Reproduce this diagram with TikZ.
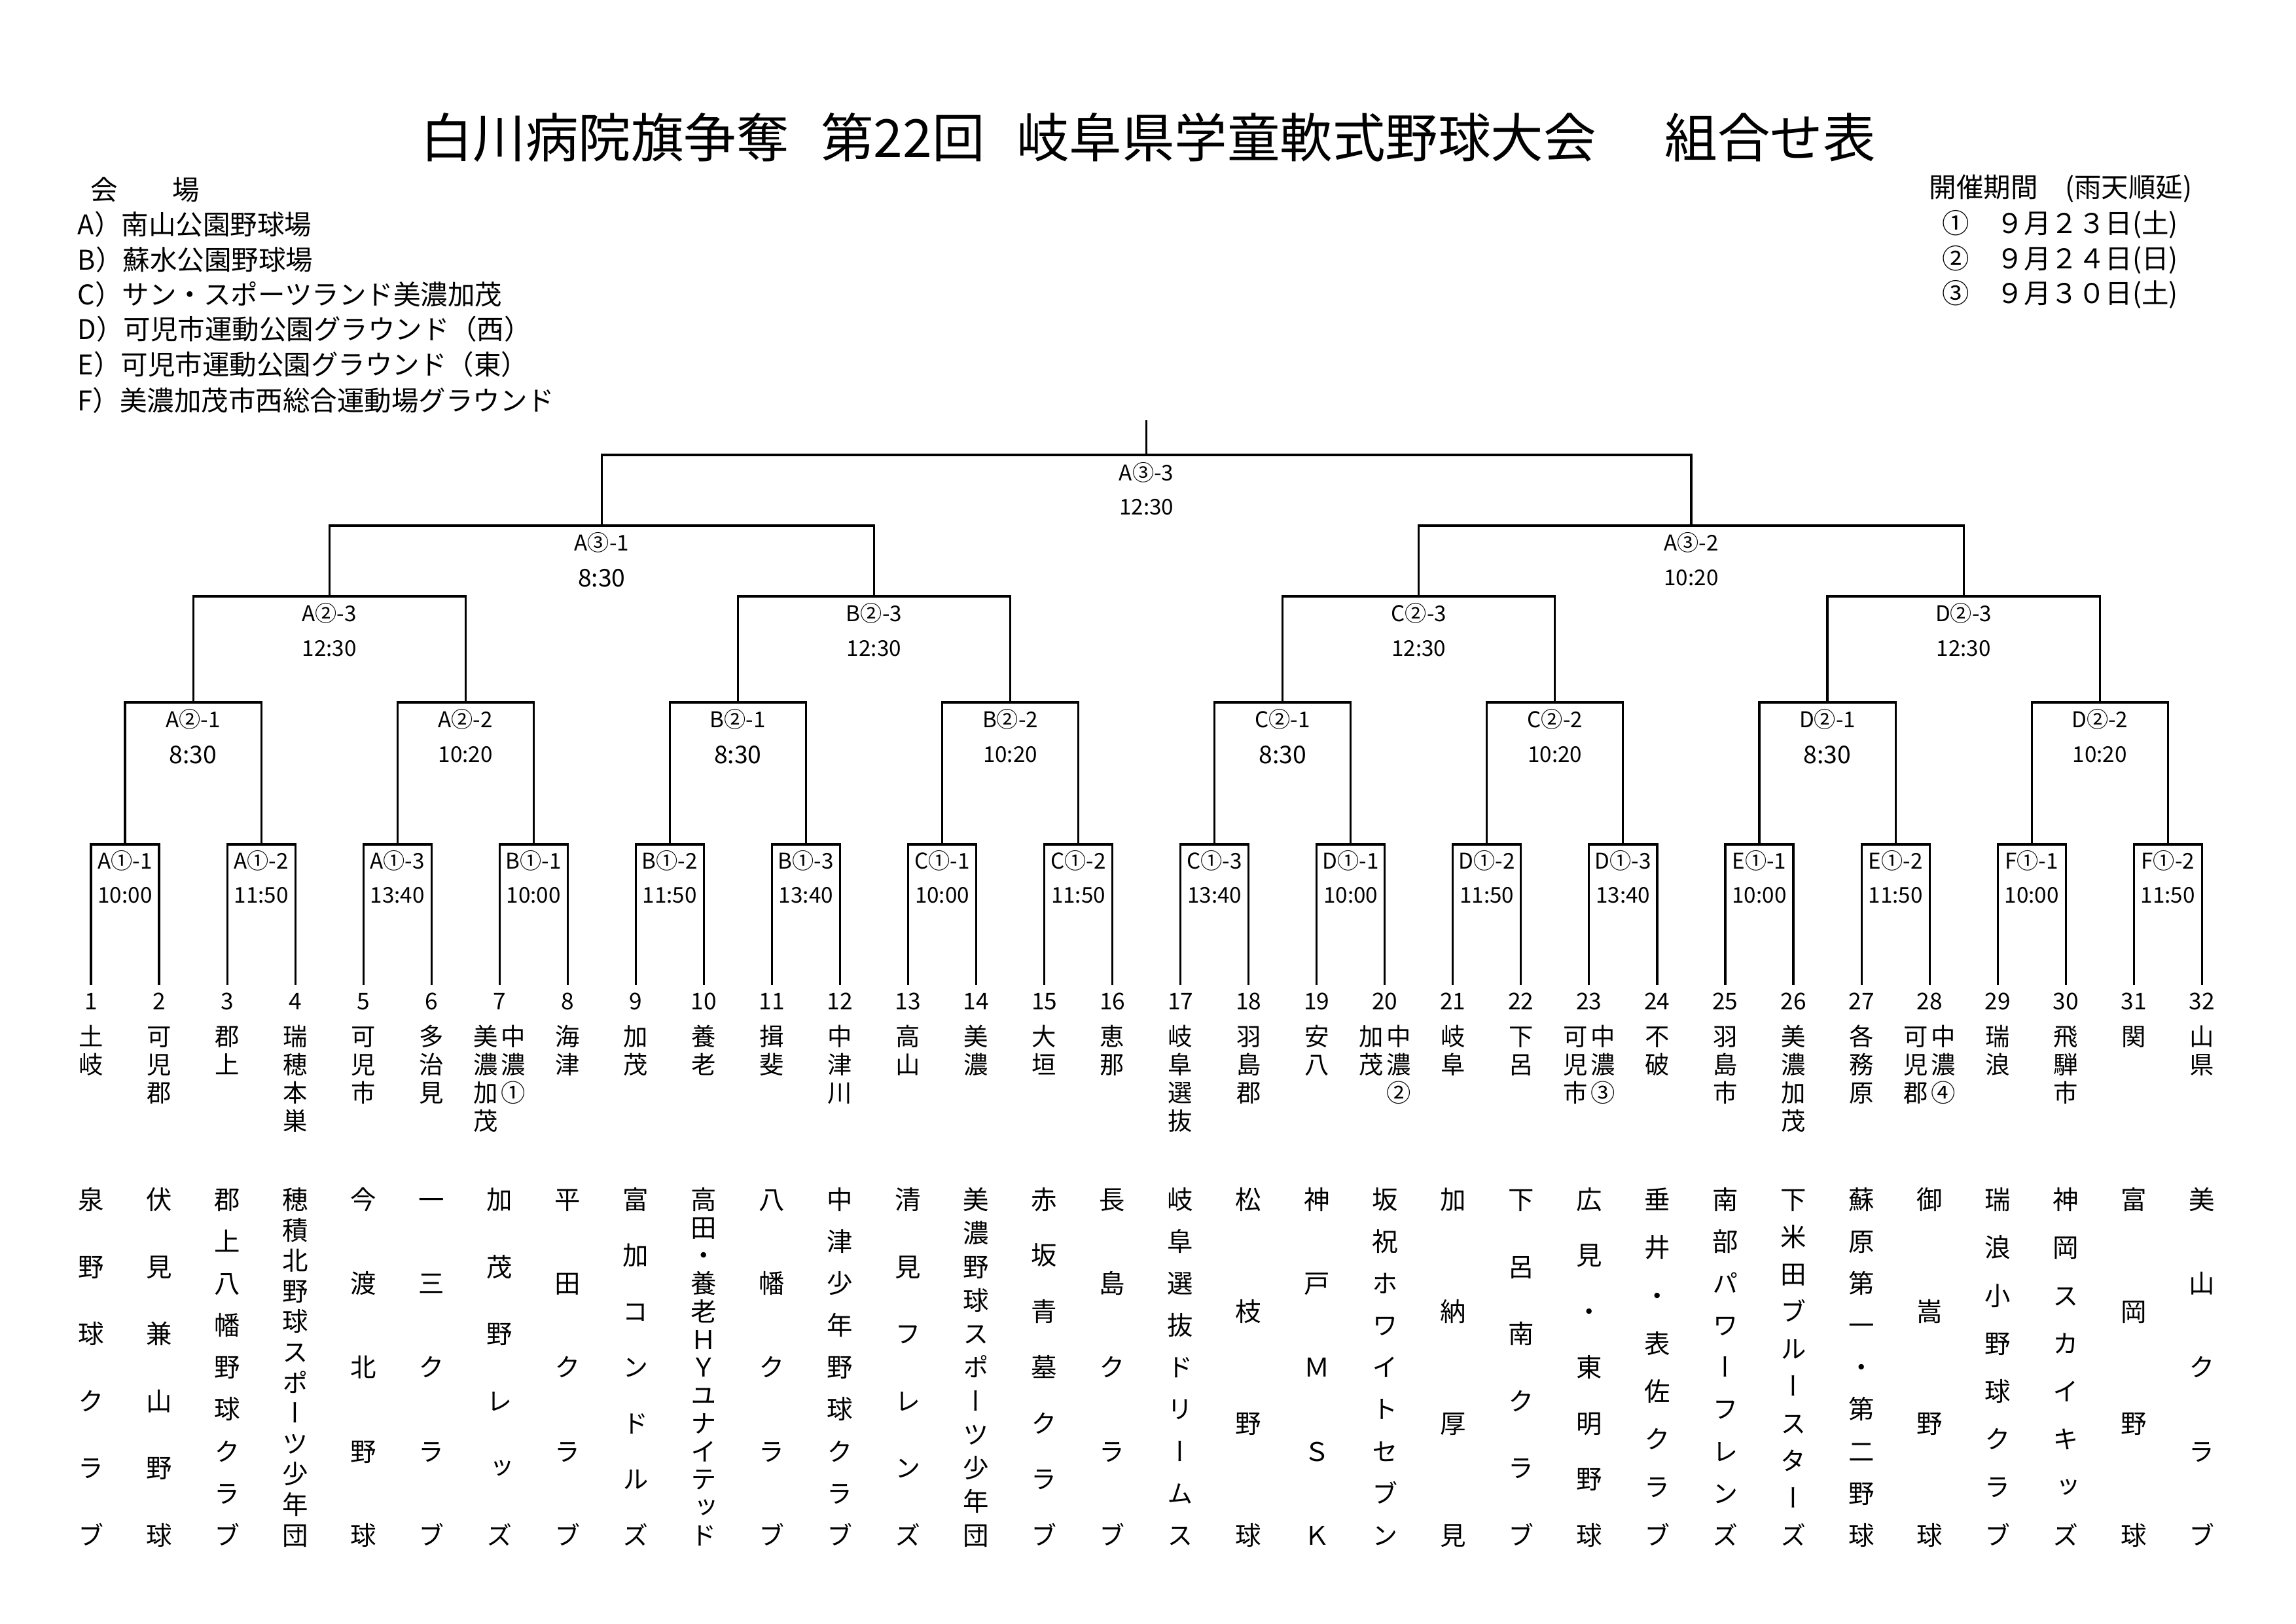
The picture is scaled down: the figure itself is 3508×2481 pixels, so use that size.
\documentclass[tikz,border=0pt]{standalone}
\usepackage{fontspec}
\setmainfont{Noto Sans CJK JP}
\newfontfamily\tatefont{Noto Sans CJK JP}[RawFeature=+vert]
\usetikzlibrary{calc}

% characters stacked one under the other
\def\tatechar#1{\hbox to 1em{\hss\vrule height .88em depth .12em width 0pt\relax#1\hss}}
\def\tatefirst#1{\tatechar{#1}\tatenext}
\def\tatenext#1{\ifx\relax#1\else\tategap\tatechar{#1}\expandafter\tatenext\fi}
\newcommand\tate[2][\vfill]{\def\tategap{#1}\expandafter\tatefirst#2\relax}

\tikzset{
    edgen/.style = {line width=0.75pt,draw=black},
    mcode/.style = {inner sep=0pt,font=\fontsize{8}{8}\selectfont},
    mtime/.style = {inner sep=0pt,font=\fontsize{8}{8}\selectfont},
    mtimeb/.style = {inner sep=0pt,font=\fontsize{9}{9}\selectfont},
    tnum/.style = {inner sep=0pt,font=\fontsize{8.5}{8.5}\selectfont},
    tname/.style = {inner sep=0pt,anchor=north,font=\tatefont\fontsize{9}{9}\selectfont},
    tclub/.style = {inner sep=0pt,anchor=north,font=\tatefont\fontsize{9.5}{9.5}\selectfont},
    venue/.style = {inner sep=0pt,anchor=west,font=\fontsize{10}{10}\selectfont}
}

\begin{document}
\begin{tikzpicture}[x=0.0846667mm,y=-0.0846667mm]
\useasboundingbox (0,0) rectangle (3508,2481);
%
\node[inner sep=0pt,font=\fontsize{19.4}{20}\selectfont] (title) at (1754,210)
  {白川病院旗争奪\hspace{.6em}第22回\hspace{.6em}岐阜県学童軟式野球大会　\hspace{.3em}組合せ表};
\node[venue] (venue) at (138,290) {会　　場};
\foreach \k/\y/\v in {A/343/南山公園野球場, B/397/蘇水公園野球場, C/450/サン・スポーツランド美濃加茂,
  D/503/可児市運動公園グラウンド（西）, E/557/可児市運動公園グラウンド（東）, F/612/美濃加茂市西総合運動場グラウンド}
  \node[venue] (v\k) at (118,\y) {\k）\v};
\node[venue] (period) at (2947,288) {開催期間　(雨天順延)};
\foreach \k/\y/\d in {1/343/①　９月２３日(土), 2/397/②　９月２４日(日), 3/450/③　９月３０日(土)}
  \node[venue] (day\k) at (2967,\y) {\d};
%
\foreach \i in {1,...,32} {
  \coordinate (t\i) at ({139+(\i-1)*104.04},1505);
  \node[tnum] (n\i) at ({139+(\i-1)*104.04},1530) {\i};
}
\foreach \k in {1,...,16} \coordinate (a\k) at ({139+(2*\k-1.5)*104.04},1290);
\foreach \k in {1,...,8} \coordinate (b\k) at ({139+(4*\k-2.5)*104.04},1073);
\foreach \k in {1,...,4} \coordinate (c\k) at ({139+(8*\k-4.5)*104.04},911);
\foreach \k in {1,2} \coordinate (d\k) at ({139+(16*\k-8.5)*104.04},803);
\coordinate (f) at ({139+15.5*104.04},695);
\coordinate (win) at ({139+15.5*104.04},642);
%
\foreach \k [evaluate=\k as \i using int(2*\k-1), evaluate=\k as \j using int(2*\k)] in {1,...,16}
  \draw[edgen] (t\i) |- (a\k) -| (t\j);
\foreach \k [evaluate=\k as \i using int(2*\k-1), evaluate=\k as \j using int(2*\k)] in {1,...,8}
  \draw[edgen] (a\i) |- (b\k) -| (a\j);
\foreach \k [evaluate=\k as \i using int(2*\k-1), evaluate=\k as \j using int(2*\k)] in {1,...,4}
  \draw[edgen] (b\i) |- (c\k) -| (b\j);
\foreach \k [evaluate=\k as \i using int(2*\k-1), evaluate=\k as \j using int(2*\k)] in {1,2}
  \draw[edgen] (c\i) |- (d\k) -| (c\j);
\draw[edgen] (d1) |- (f) -| (d2);
\draw[edgen] (f) -- (win);
%
\foreach \k/\code/\tm in {1/A①-1/10:00, 2/A①-2/11:50, 3/A①-3/13:40, 4/B①-1/10:00,
  5/B①-2/11:50, 6/B①-3/13:40, 7/C①-1/10:00, 8/C①-2/11:50, 9/C①-3/13:40, 10/D①-1/10:00,
  11/D①-2/11:50, 12/D①-3/13:40, 13/E①-1/10:00, 14/E①-2/11:50, 15/F①-1/10:00, 16/F①-2/11:50} {
  \node[mcode] (am\k) at ($(a\k)+(0,25)$) {\code};
  \node[mtime] (at\k) at ($(a\k)+(0,78)$) {\tm};
}
\foreach \k/\code/\tm/\ts in {1/A②-1/8:30/mtimeb, 2/A②-2/10:20/mtime, 3/B②-1/8:30/mtimeb, 4/B②-2/10:20/mtime,
  5/C②-1/8:30/mtimeb, 6/C②-2/10:20/mtime, 7/D②-1/8:30/mtimeb, 8/D②-2/10:20/mtime} {
  \node[mcode] (bm\k) at ($(b\k)+(0,26)$) {\code};
  \node[\ts] (bt\k) at ($(b\k)+(0,80)$) {\tm};
}
\foreach \k/\code in {1/A②-3, 2/B②-3, 3/C②-3, 4/D②-3} {
  \node[mcode] (cm\k) at ($(c\k)+(0,26)$) {\code};
  \node[mtime] (ct\k) at ($(c\k)+(0,80)$) {12:30};
}
\node[mcode] (dm1) at ($(d1)+(0,26)$) {A③-1};
\node[mtimeb] (dt1) at ($(d1)+(0,80)$) {8:30};
\node[mcode] (dm2) at ($(d2)+(0,26)$) {A③-2};
\node[mtime] (dt2) at ($(d2)+(0,80)$) {10:20};
\node[mcode] (fm) at ($(f)+(0,27)$) {A③-3};
\node[mtime] (ft) at ($(f)+(0,80)$) {12:30};
%
\foreach \i/\sname in {1/土岐, 2/可児郡, 3/郡上, 4/瑞穂本巣, 5/可児市, 6/多治見, 8/海津, 9/加茂,
  10/養老, 11/揖斐, 12/中津川, 13/高山, 14/美濃, 15/大垣, 16/恵那, 17/岐阜選抜, 18/羽島郡, 19/安八,
  21/岐阜, 22/下呂, 24/不破, 25/羽島市, 26/美濃加茂, 27/各務原, 29/瑞浪, 30/飛騨市, 31/関, 32/山県}
  \node[tname] (s\i) at ({139+(\i-1)*104.04},1564) {\vbox{\offinterlineskip\tate[\vskip1.32pt\relax]{\sname}}};
\foreach \i/\sl/\sr in {7/美濃加茂/中濃①, 20/加茂/中濃②, 23/可児市/中濃③, 28/可児郡/中濃④} {
  \node[tname] (s\i) at ({139+(\i-1)*104.04-21},1564) {\vbox{\offinterlineskip\tate[\vskip1.32pt\relax]{\sl}}};
  \node[tname] (r\i) at ({139+(\i-1)*104.04+21},1564) {\vbox{\offinterlineskip\tate[\vskip1.32pt\relax]{\sr}}};
}
%
\foreach \i/\club in {1/泉野球クラブ, 2/伏見兼山野球, 3/郡上八幡野球クラブ, 4/穂積北野球スポーツ少年団,
  5/今渡北野球, 6/一三クラブ, 7/加茂野レッズ, 8/平田クラブ, 9/富加コンドルズ, 10/高田・養老ＨＹユナイテッド,
  11/八幡クラブ, 12/中津少年野球クラブ, 13/清見フレンズ, 14/美濃野球スポーツ少年団, 15/赤坂青墓クラブ,
  16/長島クラブ, 17/岐阜選抜ドリームス, 18/松枝野球, 19/神戸ＭＳＫ, 20/坂祝ホワイトセブン, 21/加納厚見,
  22/下呂南クラブ, 23/広見・東明野球, 24/垂井・表佐クラブ, 25/南部パワーフレンズ, 26/下米田ブルースターズ,
  27/蘇原第一・第二野球, 28/御嵩野球, 29/瑞浪小野球クラブ, 30/神岡スカイキッズ, 31/富岡野球, 32/美山クラブ}
  \node[tclub] (c\i) at ({139+(\i-1)*104.04},1812) {\vbox to 133pt{\offinterlineskip\tate{\club}\kern0pt}};

\end{tikzpicture}
\end{document}
